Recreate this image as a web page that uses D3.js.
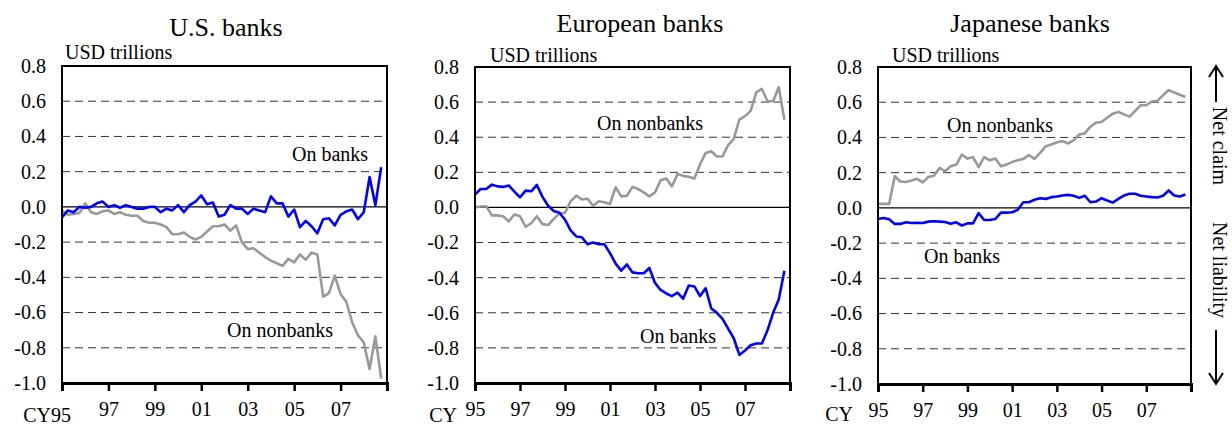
<!DOCTYPE html>
<html>
<head>
<meta charset="utf-8">
<script src="https://cdn.jsdelivr.net/npm/d3@7"></script>
<style>
  html, body { margin: 0; padding: 0; background: #fff; }
  svg { display: block; }
  text { font-family: "Liberation Serif", "Times New Roman", serif; fill: #000; }
</style>
</head>
<body>
<svg id="chart" width="1232" height="427"></svg>
<script>
// ---------------- DATA ----------------
// quarterly observations, 1995Q1 .. 2008Q4
const quarters = d3.range(56).map(i => 1995 + i / 4);
const yTicks = [0.8, 0.6, 0.4, 0.2, 0.0, -0.2, -0.4, -0.6, -0.8, -1.0];
const xTickYears = [1995, 1997, 1999, 2001, 2003, 2005, 2007, 2009];
const xTickLabels = ["95", "97", "99", "01", "03", "05", "07", ""];
const panelTitles = ["U.S. banks", "European banks", "Japanese banks"];
const unitLabel = "USD trillions";
const seriesNames = ["On banks", "On nonbanks"];

const usBanks = [-0.06,-0.02,-0.03,0.0,-0.005,0.0,0.02,0.03,0.0,0.01,
  -0.005,0.01,0.0,-0.01,-0.01,0.0,0.0,-0.03,-0.01,-0.02,
  0.01,-0.03,0.01,0.03,0.065,0.015,0.025,-0.055,-0.045,0.01,
  -0.01,-0.01,-0.04,-0.01,-0.02,-0.03,0.06,0.02,0.02,-0.055,
  -0.015,-0.115,-0.08,-0.11,-0.15,-0.07,-0.065,-0.105,-0.045,-0.025,
  -0.015,-0.07,-0.03,0.17,0.01,0.225];
const usNonbanks = [-0.02,-0.045,-0.04,-0.035,0.02,-0.03,-0.04,-0.025,-0.02,-0.04,
  -0.03,-0.045,-0.05,-0.05,-0.08,-0.09,-0.09,-0.10,-0.115,-0.155,
  -0.155,-0.145,-0.17,-0.185,-0.17,-0.14,-0.11,-0.11,-0.10,-0.135,
  -0.105,-0.2,-0.24,-0.235,-0.26,-0.285,-0.305,-0.32,-0.335,-0.295,
  -0.315,-0.27,-0.30,-0.26,-0.27,-0.51,-0.49,-0.39,-0.495,-0.54,
  -0.655,-0.73,-0.77,-0.92,-0.735,-0.975];

const euBanks = [0.073,0.105,0.105,0.13,0.12,0.117,0.125,0.09,0.057,0.096,
  0.092,0.128,0.06,0.01,-0.02,-0.03,-0.07,-0.13,-0.165,-0.17,
  -0.21,-0.2,-0.21,-0.21,-0.26,-0.32,-0.36,-0.325,-0.37,-0.375,
  -0.375,-0.345,-0.43,-0.47,-0.49,-0.505,-0.485,-0.52,-0.445,-0.45,
  -0.505,-0.46,-0.575,-0.6,-0.635,-0.69,-0.745,-0.84,-0.815,-0.785,
  -0.775,-0.775,-0.70,-0.6,-0.525,-0.36];
const euNonbanks = [0.0,0.005,0.006,-0.045,-0.045,-0.05,-0.08,-0.04,-0.05,-0.11,
  -0.09,-0.05,-0.095,-0.10,-0.065,-0.035,-0.03,0.035,0.067,0.045,
  0.05,0.01,0.035,0.03,0.02,0.115,0.063,0.067,0.117,0.105,
  0.086,0.063,0.086,0.155,0.165,0.12,0.19,0.18,0.175,0.165,
  0.245,0.31,0.32,0.29,0.29,0.355,0.39,0.5,0.52,0.55,
  0.655,0.675,0.605,0.605,0.685,0.5];

const jpBanks = [-0.063,-0.057,-0.065,-0.091,-0.091,-0.082,-0.086,-0.084,-0.086,-0.078,
  -0.076,-0.078,-0.08,-0.09,-0.082,-0.1,-0.088,-0.088,-0.03,-0.069,
  -0.069,-0.063,-0.027,-0.027,-0.025,-0.011,0.032,0.032,0.046,0.055,
  0.051,0.061,0.065,0.07,0.074,0.069,0.057,0.069,0.032,0.036,
  0.055,0.042,0.03,0.051,0.07,0.08,0.08,0.069,0.065,0.061,
  0.059,0.069,0.099,0.07,0.065,0.076];
const jpNonbanks = [0.023,0.023,0.023,0.18,0.15,0.147,0.155,0.165,0.145,0.175,
  0.183,0.227,0.208,0.236,0.246,0.303,0.28,0.288,0.232,0.288,
  0.27,0.28,0.236,0.246,0.261,0.27,0.278,0.3,0.278,0.312,
  0.35,0.36,0.373,0.379,0.366,0.383,0.417,0.423,0.461,0.484,
  0.488,0.512,0.535,0.545,0.531,0.518,0.55,0.583,0.583,0.604,
  0.608,0.64,0.669,0.655,0.642,0.63];

const annotTexts = ["Net claim", "Net liability"];

// ---------------- LAYOUT ----------------
const panels = [
  { title: panelTitles[0], banks: usBanks, nonbanks: usNonbanks,
    x0: 62, x1: 387, y0: 66, y1: 383, titleX: 226, titleY: 36, unitX: 65, unitY: 59,
    bankLbl: [292, 161], nonbankLbl: [227, 337], cy: "CY", cyMode: "joined" },
  { title: panelTitles[1], banks: euBanks, nonbanks: euNonbanks,
    x0: 475, x1: 790, y0: 67, y1: 383, titleX: 640, titleY: 32, unitX: 490, unitY: 62,
    bankLbl: [640, 343], nonbankLbl: [597, 130], cy: "CY", cyMode: "space" },
  { title: panelTitles[2], banks: jpBanks, nonbanks: jpNonbanks,
    x0: 878, x1: 1191, y0: 67, y1: 384, titleX: 1030, titleY: 32, unitX: 892, unitY: 62,
    bankLbl: [924, 263], nonbankLbl: [947, 132], cy: "CY", cyMode: "low" }
];

const svg = d3.select("#chart");
const fs = 20;
const serif = '"Liberation Serif", "Times New Roman", serif';

panels.forEach((p) => {
  const x = d3.scaleLinear().domain([1995, 2009]).range([p.x0, p.x1]);
  const y = d3.scaleLinear().domain([-1.0, 0.8]).range([p.y1, p.y0]);
  const g = svg.append("g");

  // gridlines
  g.selectAll("line.grid")
    .data(yTicks.filter(v => v !== 0 && v !== 0.8 && v !== -1.0))
    .join("line")
    .attr("x1", p.x0).attr("x2", p.x1)
    .attr("y1", d => y(d)).attr("y2", d => y(d))
    .attr("stroke", "#333").attr("stroke-width", 1)
    .attr("stroke-dasharray", "8,5");

  // zero line
  g.append("line")
    .attr("x1", p.x0).attr("x2", p.x1)
    .attr("y1", y(0)).attr("y2", y(0))
    .attr("stroke", "#000").attr("stroke-width", 1.2);

  // series lines
  const line = d3.line().x((d, i) => x(quarters[i])).y(d => y(d));
  g.append("path").datum(p.nonbanks)
    .attr("d", line).attr("fill", "none")
    .attr("stroke", "#999").attr("stroke-width", 2.6)
    .attr("stroke-linejoin", "round");
  g.append("path").datum(p.banks)
    .attr("d", line).attr("fill", "none")
    .attr("stroke", "#0000ff").attr("stroke-width", 2.6)
    .attr("stroke-linejoin", "round");

  // frame
  g.append("rect")
    .attr("x", p.x0).attr("y", p.y0)
    .attr("width", p.x1 - p.x0).attr("height", p.y1 - p.y0)
    .attr("fill", "none").attr("stroke", "#000").attr("stroke-width", 2);

  // y axis labels
  const yAxis = d3.axisLeft(y).tickValues(yTicks).tickSize(0).tickPadding(16)
    .tickFormat(v => v.toFixed(1));
  const ya = g.append("g").attr("transform", `translate(${p.x0},0)`).call(yAxis);
  ya.select(".domain").remove();
  ya.selectAll("text").attr("font-size", fs).style("font-family", serif).attr("fill", "#000");

  // x axis
  const labelFor = v => {
    if (p.cyMode === "joined" && v === xTickYears[0]) return "";
    return xTickLabels[xTickYears.indexOf(v)];
  };
  const xAxis = d3.axisBottom(x).tickValues(xTickYears).tickSize(8).tickPadding(11)
    .tickFormat(labelFor);
  const xa = g.append("g").attr("transform", `translate(0,${p.y1})`).call(xAxis);
  xa.select(".domain").attr("stroke", "#000").attr("stroke-width", 3);
  xa.selectAll(".tick line").attr("stroke", "#000").attr("stroke-width", 2.5);
  xa.selectAll("text").attr("font-size", fs).style("font-family", serif).attr("fill", "#000");

  // CY prefix
  if (p.cyMode === "joined") {
    g.append("text").attr("x", x(1995) + 9).attr("y", p.y1 + 39)
      .attr("text-anchor", "end").attr("font-size", fs).text(p.cy + xTickLabels[0]);
  } else if (p.cyMode === "space") {
    g.append("text").attr("x", x(1995) - 18).attr("y", p.y1 + 39)
      .attr("text-anchor", "end").attr("font-size", fs).text(p.cy);
  } else {
    g.append("text").attr("x", x(1995) - 25).attr("y", 421)
      .attr("text-anchor", "end").attr("font-size", fs).text(p.cy);
  }

  // titles
  g.append("text").attr("x", p.titleX).attr("y", p.titleY)
    .attr("text-anchor", "middle").attr("font-size", 26).text(p.title);
  g.append("text").attr("x", p.unitX).attr("y", p.unitY)
    .attr("font-size", fs).text(unitLabel);

  // series labels
  g.append("text").attr("x", p.bankLbl[0]).attr("y", p.bankLbl[1])
    .attr("font-size", fs).text(seriesNames[0]);
  g.append("text").attr("x", p.nonbankLbl[0]).attr("y", p.nonbankLbl[1])
    .attr("font-size", fs).text(seriesNames[1]);
});

// right-side annotation
const ax = 1216;
const ann = svg.append("g");
ann.append("text").attr("transform", `translate(${ax - 3},146) rotate(90)`)
  .attr("text-anchor", "middle").attr("font-size", fs).text(annotTexts[0]);
ann.append("text").attr("transform", `translate(${ax - 3},270) rotate(90)`)
  .attr("text-anchor", "middle").attr("font-size", fs).text(annotTexts[1]);
// up arrow
ann.append("path").attr("d", `M${ax},102 L${ax},67 M${ax - 7},77 L${ax},66 L${ax + 7},77`)
  .attr("fill", "none").attr("stroke", "#000").attr("stroke-width", 2);
// down arrow
ann.append("path").attr("d", `M${ax},330 L${ax},383 M${ax - 7},373 L${ax},384 L${ax + 7},373`)
  .attr("fill", "none").attr("stroke", "#000").attr("stroke-width", 2);
</script>
</body>
</html>
